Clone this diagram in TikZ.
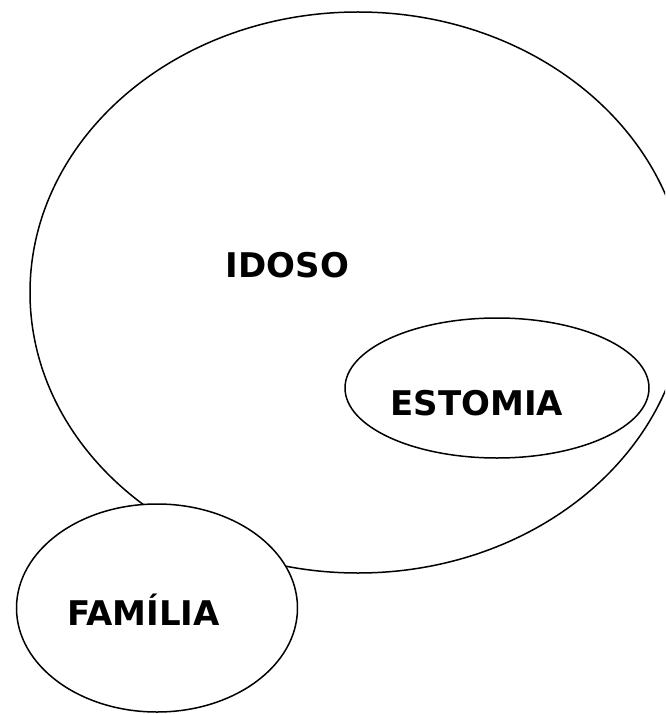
\documentclass[tikz,border=0pt]{standalone}
\usepackage{fontspec}
\setmainfont{DejaVu Sans}
\usetikzlibrary{shapes.geometric}
\begin{document}
\begin{tikzpicture}[x=1pt,y=-1pt,
  blob/.style={ellipse, draw, line width=1.5pt, inner sep=0pt, outer sep=0pt},
  lbl/.style={font=\bfseries\fontsize{34}{34}\selectfont, inner sep=0pt, anchor=base}]
\useasboundingbox (0,0) rectangle (665,714);
\clip (0,0) rectangle (665,714);
\node[blob, minimum width=656pt, minimum height=561pt] (idoso) at (358,292.5) {};
\node[blob, minimum width=304pt, minimum height=140pt] (estomia) at (497,388) {};
\node[blob, fill=white, minimum width=281pt, minimum height=208pt] (familia) at (157,608) {};
\node[lbl] (tidoso) at (287.5,277) {IDOSO};
\node[lbl] (testomia) at (477,415) {ESTOMIA};
\node[lbl] (tfamilia) at (143.5,625) {FAMÍLIA};
\end{tikzpicture}
\end{document}
